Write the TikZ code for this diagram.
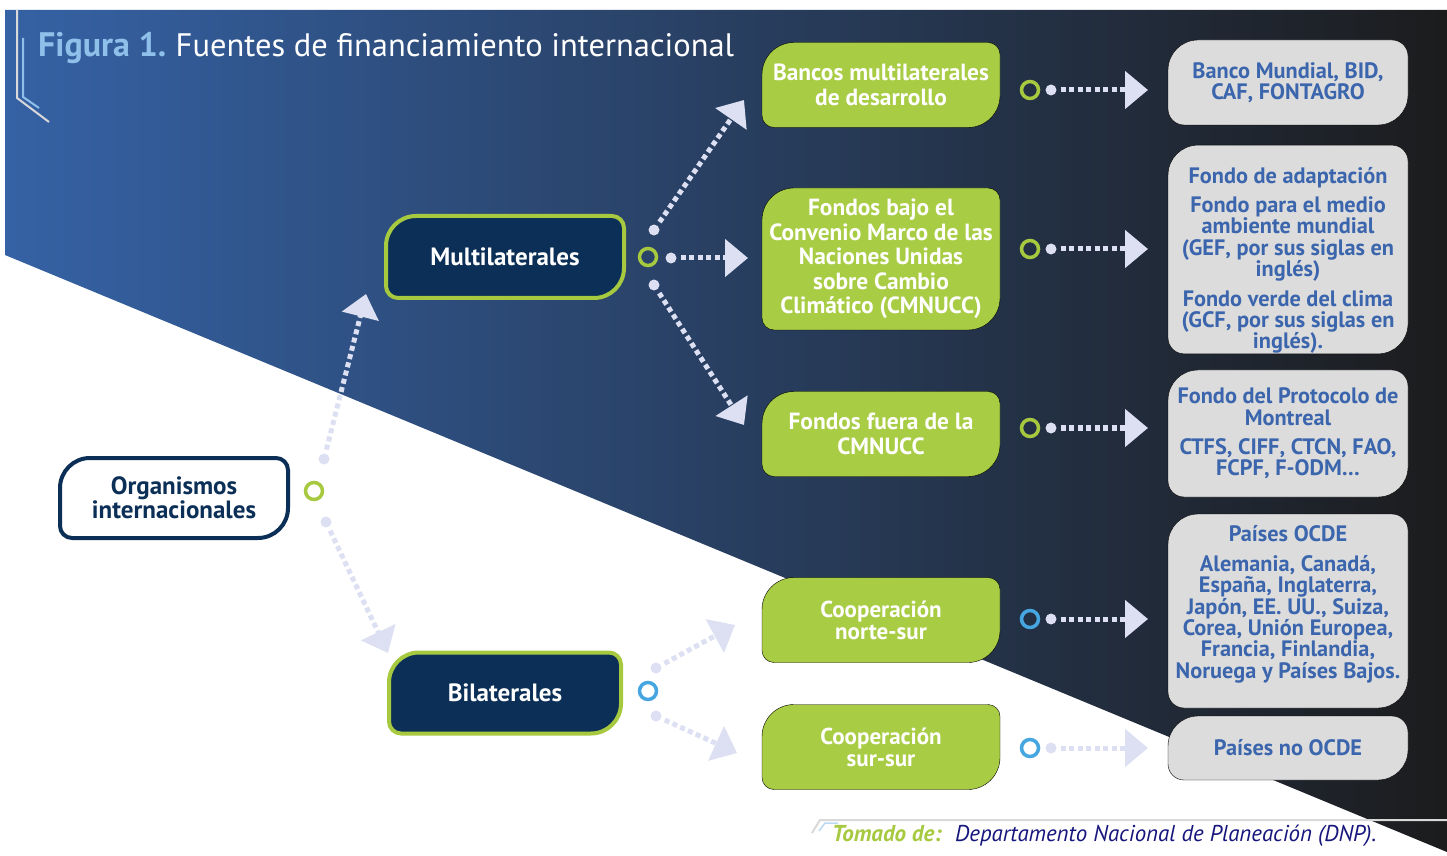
\documentclass[tikz,border=0pt]{standalone}
\usepackage{fontspec}
\setmainfont{PT Sans}
\usetikzlibrary{arrows.meta,calc}
\definecolor{navy}{HTML}{0B2F56}
\definecolor{lime}{HTML}{A6C93F}
\definecolor{limebox}{HTML}{A9CC45}
\definecolor{skyring}{HTML}{45A6E1}
\definecolor{lav}{HTML}{DCE0F2}
\definecolor{greybox}{HTML}{DCDCDC}
\definecolor{greytext}{HTML}{3B65AC}
\definecolor{titleblue}{HTML}{8EC0EA}
\definecolor{bgleft}{HTML}{3562A5}
\definecolor{bgright}{HTML}{1C1C1D}
\definecolor{footnavy}{HTML}{16167C}
\definecolor{footline}{HTML}{D9D9D9}
\pgfdeclarelayer{back}
\pgfdeclarelayer{shapes}
\pgfsetlayers{back,shapes,main}
\newcommand\tightlines{\lineskiplimit-100pt\relax}
\newcommand\leafbox[4]{%
	\draw[#2] ($(#1.north west)+(#3,0)$) -- ($(#1.north east)+(-#4,0)$)
		arc[start angle=90,end angle=0,radius=#4] -- ($(#1.south east)+(0,#3)$)
		arc[start angle=0,end angle=-90,radius=#3] -- ($(#1.south west)+(#4,0)$)
		arc[start angle=270,end angle=180,radius=#4] -- ($(#1.north west)+(0,-#3)$)
		arc[start angle=180,end angle=90,radius=#3] -- cycle;}
\begin{document}
\begin{tikzpicture}[x=1pt,y=1pt,
		box/.style={inner sep=0pt,outer sep=0pt,align=center,font=\bfseries\fontsize{23.4}{24.5}\selectfont\tightlines},
		mainbox/.style={box,font=\bfseries\fontsize{25}{24}\selectfont\tightlines},
		greenbox/.style={box,text=white,minimum width=238pt},
		greybx/.style={box,text=greytext,minimum width=240pt,font=\bfseries\fontsize{22.3}{21.4}\selectfont\tightlines},
		ring/.style={circle,draw=#1,line width=3.5pt,minimum size=17pt,inner sep=0pt},
		dotn/.style={circle,fill=lav,minimum size=11pt,inner sep=0pt},
		conn/.style={draw=lav,line width=5pt,dash pattern=on 5pt off 3.5pt,shorten <=4pt,-{Triangle[length=23pt,width=37pt]}}]
	\useasboundingbox (0,0) rectangle (1447,855);
	\begin{pgfonlayer}{back}
		\fill[white] (0,0) rectangle (1447,855);
		\shade[left color=bgleft,right color=bgright] (5,845) -- (1447,845) -- (1447,3) -- (5,600) -- cycle;
		\draw[footline,line width=2pt] (17,845) -- (17,757) -- (49,733);
		\draw[titleblue,line width=2pt] (23,817) -- (23,758) -- (39,747);
	\end{pgfonlayer}
	\node[anchor=base west,inner sep=0pt,text=white,font=\fontsize{32.5}{36}\selectfont] (title) at (38,798)
		{\textcolor{titleblue}{\fontsize{34}{36}\selectfont\bfseries Figura 1.}\hspace{-2pt} Fuentes de financiamiento internacional};

	\node[mainbox,text=navy,minimum width=228pt,minimum height=80pt] (org) at (174,357) {Organismos\\internacionales};
	\node[mainbox,text=white,minimum width=238pt,minimum height=82pt] (multi) at (505,598) {Multilaterales};
	\node[mainbox,text=white,minimum width=232pt,minimum height=81pt] (bila) at (505,162) {Bilaterales};

	\node[greenbox,minimum height=85pt] (bancos) at (881,770) {Bancos multilaterales\\de desarrollo};
	\node[greenbox,minimum height=142pt] (cmnucc) at (881,596) {Fondos bajo el\\Convenio Marco de las\\Naciones Unidas\\sobre Cambio\\Climático (CMNUCC)};
	\node[greenbox,minimum height=85pt] (fuera) at (881,421) {Fondos fuera de la\\CMNUCC};
	\node[greenbox,minimum height=85pt,font=\bfseries\fontsize{23}{22}\selectfont\tightlines] (norte) at (881,235) {Cooperación\\norte-sur};
	\node[greenbox,minimum height=85pt,font=\bfseries\fontsize{23}{22}\selectfont\tightlines] (sur) at (881,108) {Cooperación\\sur-sur};

	\node[greybx,minimum height=85pt] (bm) at (1288,772.5) {Banco Mundial, BID,\\CAF, FONTAGRO};
	\node[greybx,minimum height=207pt] (fondos) at (1288,605.5) {\rule{0pt}{38pt}Fondo de adaptación\\[8pt]Fondo para el medio\\ambiente mundial\\(GEF, por sus siglas en\\inglés)\\[8pt]Fondo verde del clima\\(GCF, por sus siglas en\\inglés).};
	\node[greybx,minimum height=127pt] (montreal) at (1288,421.5) {Fondo del Protocolo de\\Montreal\\[8pt]CTFS, CIFF, CTCN, FAO,\\FCPF, F-ODM…};
	\node[greybx,minimum height=194pt] (ocde) at (1288,244) {Países OCDE\\[8pt]Alemania, Canadá,\\España, Inglaterra,\\Japón, EE. UU., Suiza,\\Corea, Unión Europea,\\Francia, Finlandia,\\Noruega y Países Bajos.\rule[-18pt]{0pt}{1pt}};
	\node[greybx,minimum height=64pt] (noocde) at (1288,107) {Países no OCDE};

	\begin{pgfonlayer}{shapes}
		\leafbox{org}{fill=white,draw=navy,line width=4pt}{30}{12}
		\leafbox{multi}{fill=navy,draw=lime,line width=4pt}{30}{12}
		\leafbox{bila}{fill=navy,draw=lime,line width=4pt}{30}{12}
		\foreach \n in {bancos,cmnucc,fuera,norte,sur}{
			\leafbox{\n}{fill=limebox}{32}{12}
		}
		\foreach \n in {bm,fondos,montreal,ocde,noocde}{
			\leafbox{\n}{fill=greybox}{30}{16}
		}
	\end{pgfonlayer}

	\node[ring=lime] (r1) at (314,364) {};
	\node[ring=lime] (r2) at (648,598) {};
	\node[ring=skyring] (r3) at (648,164) {};
	\node[dotn] (o1) at (324,396) {};
	\node[dotn] (o2) at (326,333) {};
	\node[dotn] (m1) at (654,625) {};
	\node[dotn] (m2) at (671,597) {};
	\node[dotn] (m3) at (654,570) {};
	\node[dotn] (b1) at (656,187) {};
	\node[dotn] (b2) at (656,139) {};
	\coordinate (to1) at (366,561);
	\coordinate (to2) at (388,202);
	\coordinate (tm1) at (744,755);
	\coordinate (tm2) at (748,597);
	\coordinate (tm3) at (744,430);
	\coordinate (tb1) at (735,230);
	\coordinate (tb2) at (737,102);
	\draw[conn] (o1) -- (to1);
	\draw[conn] (o2) -- (to2);
	\draw[conn] (m1) -- (tm1);
	\draw[conn] (m2) -- (tm2);
	\draw[conn] (m3) -- (tm3);
	\draw[conn] (b1) -- (tb1);
	\draw[conn] (b2) -- (tb2);

	\foreach \y/\c/\n in {765/lime/1,606/lime/2,427/lime/3,236/skyring/4,107/skyring/5}{
		\node[ring=\c] (rr\n) at (1030,\y) {};
		\node[dotn] (rd\n) at (1051,\y) {};
		\coordinate (rt\n) at (1148,\y);
		\draw[conn] (rd\n) -- (rt\n);
	}

	\draw[footline,line width=2pt] (812,22) -- (820,35) -- (1447,35);
	\draw[titleblue!60,line width=1.5pt] (819,24) -- (825,32) -- (838,32);
	\node[anchor=base west,inner sep=0pt,text=lime,font=\bfseries\itshape\fontsize{23}{24}\selectfont] (src) at (832,14) {Tomado de:};
	\node[anchor=base west,inner sep=0pt,text=footnavy,font=\itshape\fontsize{22.9}{24}\selectfont] (dnp) at (955,14) {Departamento Nacional de Planeación (DNP).};
\end{tikzpicture}
\end{document}
